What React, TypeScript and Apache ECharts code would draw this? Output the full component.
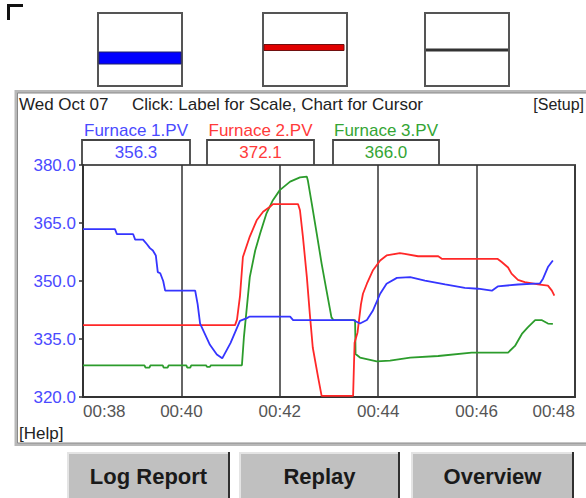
import React, { useEffect, useRef } from 'react';
import * as echarts from 'echarts';

// ---- data ----
const dateLabel = 'Wed Oct 07';
const hintLabel = 'Click: Label for Scale, Chart for Cursor';
const setupLabel = '[Setup]';
const helpLabel = '[Help]';
const seriesNames = ['Furnace 1.PV', 'Furnace 2.PV', 'Furnace 3.PV'];
const currentValues = ['356.3', '372.1', '366.0'];
const seriesColors = ['#3535ff', '#ff2828', '#2c9c2c'];
const labelColors = ['#4a4aff', '#ff3a3a', '#34a534'];
const buttonLabels = ['Log Report', 'Replay', 'Overview'];
const timeMin = 38;
const timeMax = 48;
const timeStep = 2;
const valueMin = 320;
const valueMax = 380;
const valueStep = 15;

// [minutes, value]
const furnace1 = [
  [38.0, 363.4], [38.65, 363.4], [38.69, 362.1], [39.02, 362.1], [39.06, 360.7], [39.22, 360.7],
  [39.3, 359.5], [39.36, 358.5], [39.42, 357.9], [39.48, 356.6], [39.52, 352.3], [39.57, 352.0],
  [39.63, 350.0], [39.67, 347.5], [40.28, 347.5], [40.33, 344.0], [40.38, 339.0], [40.58, 333.5],
  [40.72, 331.0], [40.83, 330.0], [41.0, 334.0], [41.19, 339.7], [41.33, 340.4], [41.39, 340.8],
  [42.21, 340.8], [42.27, 339.9], [43.49, 339.9], [43.63, 339.0], [43.77, 339.9], [43.89, 342.3],
  [44.04, 346.7], [44.17, 349.3], [44.38, 350.8], [44.65, 351.0], [44.95, 350.1], [45.36, 349.1],
  [45.76, 348.2], [46.03, 348.0], [46.31, 347.5], [46.43, 348.6], [46.84, 349.1], [47.29, 349.4],
  [47.35, 350.6], [47.45, 353.6], [47.55, 355.3],
];
const furnace2 = [
  [38.0, 338.6], [41.09, 338.6], [41.13, 340.0], [41.19, 346.0], [41.25, 356.2], [41.39, 361.5],
  [41.53, 365.7], [41.66, 367.9], [41.8, 369.2], [41.86, 369.9], [42.37, 369.9], [42.41, 368.3],
  [42.47, 361.4], [42.55, 351.0], [42.61, 341.5], [42.67, 332.8], [42.78, 325.0], [42.85, 320.3],
  [43.49, 320.3], [43.52, 334.0], [43.58, 336.7], [43.65, 344.0], [43.69, 346.7], [43.77, 349.3],
  [43.89, 352.7], [44.04, 355.3], [44.17, 356.6], [44.44, 357.2], [44.54, 357.0], [44.81, 356.4],
  [45.22, 356.4], [45.3, 355.7], [46.43, 355.7], [46.51, 354.9], [46.64, 353.5], [46.71, 351.9],
  [46.84, 350.3], [46.98, 349.7], [47.25, 349.1], [47.45, 348.8], [47.53, 347.5], [47.58, 346.2],
];
const furnace3 = [
  [38.0, 328.2], [39.25, 328.2], [39.27, 327.6], [39.35, 327.6], [39.37, 328.2], [39.62, 328.2],
  [39.64, 327.6], [39.72, 327.6], [39.74, 328.2], [40.1, 328.2], [40.12, 327.6], [40.18, 327.6],
  [40.2, 328.2], [40.5, 328.2], [40.52, 327.8], [40.58, 327.8], [40.6, 328.2], [41.23, 328.2],
  [41.27, 335.4], [41.33, 343.2], [41.39, 351.0], [41.5, 357.9], [41.6, 362.3], [41.73, 367.5],
  [41.86, 370.9], [42.0, 373.5], [42.21, 375.7], [42.41, 376.8], [42.55, 377.0], [42.57, 376.0],
  [42.65, 370.0], [42.75, 362.3], [42.85, 354.5], [42.95, 347.5], [43.05, 340.6], [43.09, 339.9],
  [43.53, 339.9], [43.54, 331.1], [43.63, 330.2], [43.97, 329.2], [44.24, 329.4], [44.65, 330.2],
  [45.22, 330.6], [45.9, 331.5], [46.64, 331.5], [46.78, 333.2], [46.92, 336.3], [47.04, 338.0],
  [47.19, 339.9], [47.32, 339.9], [47.45, 339.0], [47.55, 338.9],
];

const FONT = '"Liberation Sans", Arial, sans-serif';

function txt(x: number, y: number, text: string, fill: string, size: number, align: string, weight = 'normal') {
  return {
    type: 'text',
    x,
    y,
    silent: true,
    z: 10,
    style: {
      text,
      fill,
      fontSize: size,
      fontFamily: FONT,
      fontWeight: weight,
      textAlign: align,
      textVerticalAlign: 'middle',
      align,
      verticalAlign: 'middle',
    },
  };
}

export default function App() {
  const ref = useRef<HTMLDivElement>(null);
  useEffect(() => {
    if (!ref.current) return;
    const chart = echarts.init(ref.current, undefined, { renderer: 'svg' });

    const legendBoxes = [
      [82, 190],
      [207, 314],
      [333, 439],
    ];
    const gaugeBoxes = [98, 263, 425];
    const buttons = [
      [67, 230],
      [239, 400],
      [411, 574],
    ];
    const graphic: any[] = [];
    // corner mark
    graphic.push({
      type: 'polyline',
      shape: { points: [[8.5, 20], [8.5, 5.5], [23, 5.5]] },
      style: { stroke: '#111', lineWidth: 3, fill: 'none' },
    });
    // gauges
    gaugeBoxes.forEach((gx) => {
      graphic.push({
        type: 'rect',
        shape: { x: gx, y: 13, width: 84, height: 73 },
        style: { fill: '#fff', stroke: '#555', lineWidth: 2 },
      });
    });
    graphic.push({
      type: 'rect',
      shape: { x: 99, y: 52, width: 82, height: 12 },
      style: { fill: '#0000ff', stroke: '#20206a', lineWidth: 1 },
    });
    graphic.push({
      type: 'rect',
      shape: { x: 264, y: 44.5, width: 80, height: 6 },
      style: { fill: '#e00000', stroke: '#701010', lineWidth: 1 },
    });
    graphic.push({
      type: 'line',
      shape: { x1: 426, y1: 50, x2: 508, y2: 50 },
      style: { stroke: '#333', lineWidth: 3 },
    });
    // panel (light outer, darker inner edge)
    graphic.push({
      type: 'rect',
      shape: { x: 16, y: 91.5, width: 600, height: 353 },
      style: { fill: 'none', stroke: '#b8b8b8', lineWidth: 3 },
    });
    graphic.push({
      type: 'rect',
      shape: { x: 17.5, y: 93, width: 600, height: 350 },
      style: { fill: 'none', stroke: '#8a8a8a', lineWidth: 1 },
    });
    graphic.push(txt(19, 104, dateLabel, '#222', 17, 'left'));
    graphic.push(txt(132, 104, hintLabel, '#222', 17, 'left'));
    graphic.push(txt(584, 104, setupLabel, '#222', 16, 'right'));
    graphic.push(txt(19, 433, helpLabel, '#222', 17, 'left'));
    // legend boxes
    legendBoxes.forEach(([a, b], i) => {
      graphic.push({
        type: 'polyline',
        shape: { points: [[a, 165], [a, 140], [b, 140], [b, 165]] },
        style: { stroke: '#444', lineWidth: 1.8, fill: 'none' },
      });
      graphic.push(txt((a + b) / 2, 130, seriesNames[i], labelColors[i], 17, 'center'));
      graphic.push(txt((a + b) / 2, 152, currentValues[i], labelColors[i], 17, 'center'));
    });
    // buttons
    buttons.forEach(([a, b], i) => {
      graphic.push({
        type: 'rect',
        shape: { x: a, y: 452, width: b - a, height: 50 },
        style: { fill: '#c0c0c0', stroke: 'none' },
      });
      graphic.push({
        type: 'polyline',
        shape: { points: [[a + 1, 498], [a + 1, 453], [b - 1, 453]] },
        style: { stroke: '#e4e4e4', lineWidth: 2, fill: 'none' },
      });
      graphic.push({
        type: 'line',
        shape: { x1: b - 1, y1: 452, x2: b - 1, y2: 498 },
        style: { stroke: '#303030', lineWidth: 2 },
      });
      graphic.push(txt((a + b) / 2, 476, buttonLabels[i], '#1a1a1a', 22, 'center', 'bold'));
    });

    const series = [
      { data: furnace3, color: seriesColors[2] },
      { data: furnace2, color: seriesColors[1] },
      { data: furnace1, color: seriesColors[0] },
    ].map((s) => ({
      type: 'line',
      data: s.data,
      showSymbol: false,
      symbol: 'none',
      clip: false,
      lineStyle: { color: s.color, width: 1.8 },
      itemStyle: { color: s.color },
      z: 10,
    }));

    chart.setOption({
      animation: false,
      grid: {
        left: 83,
        right: 11,
        top: 165,
        bottom: 101,
        show: true,
        borderColor: '#555',
        borderWidth: 2,
        backgroundColor: 'transparent',
      },
      xAxis: {
        type: 'value',
        min: timeMin,
        max: timeMax,
        interval: timeStep,
        axisLine: { show: true, lineStyle: { color: '#333', width: 2 } },
        axisTick: { show: false },
        splitLine: { show: true, lineStyle: { color: '#333', width: 1.5 } },
        axisLabel: {
          color: '#555',
          fontSize: 17,
          fontFamily: FONT,
          margin: 6,
          alignMinLabel: 'left',
          alignMaxLabel: 'right',
          formatter: (v: number) => '00:' + String(v).padStart(2, '0'),
        },
      },
      yAxis: {
        type: 'value',
        min: valueMin,
        max: valueMax,
        interval: valueStep,
        axisLine: { show: true, lineStyle: { color: '#333', width: 2 } },
        axisTick: { show: true, length: 4, lineStyle: { color: '#333', width: 1.5 } },
        splitLine: { show: false },
        axisLabel: {
          color: labelColors[0],
          fontSize: 17,
          fontFamily: FONT,
          margin: 7,
          formatter: (v: number) => v.toFixed(1),
        },
      },
      graphic,
      series,
    });
    return () => chart.dispose();
  }, []);
  return (
    <div
      ref={ref}
      style={{ position: 'fixed', left: 0, top: 0, width: 586, height: 498, background: '#fff' }}
    />
  );
}
